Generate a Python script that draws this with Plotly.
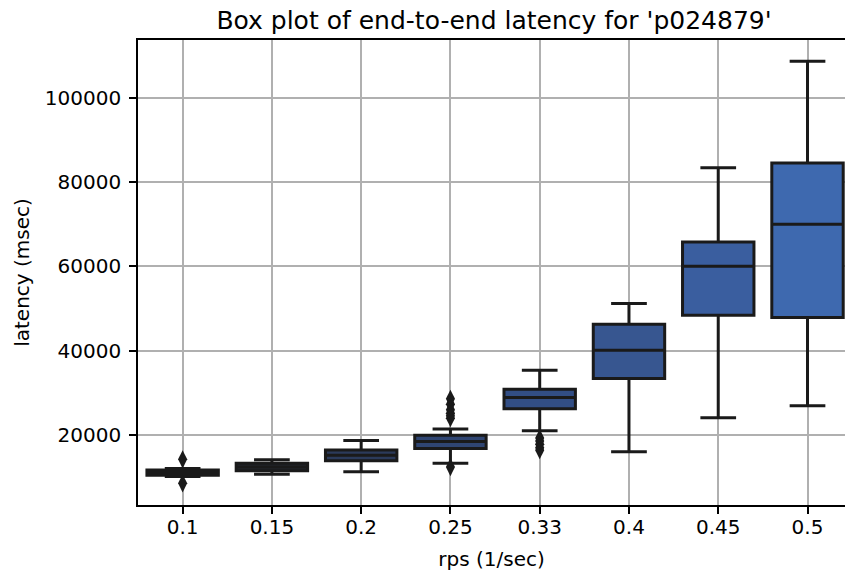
import plotly.graph_objects as go

categories = ["0.1", "0.15", "0.2", "0.25", "0.33", "0.4", "0.45", "0.5"]
lowerfence = [10150, 10690, 11310, 13290, 21020, 16050, 24100, 26950]
q1 = [10450, 11550, 13920, 16800, 26250, 33430, 48430, 47890]
median = [11100, 12450, 15200, 18500, 28900, 40140, 60050, 70000]
q3 = [11700, 13290, 16480, 19930, 30870, 46300, 65800, 84530]
upperfence = [12050, 14150, 18700, 21450, 35400, 51200, 83430, 108700]
outliers = [
    [14240, 8550],
    [],
    [],
    [28600, 27300, 26000, 25200, 24600, 24000, 12400],
    [19300, 18600, 17800, 17000, 16400],
    [],
    [],
    [],
]
colors = ["#1c1c1e", "#22272e", "#2b3a5a", "#2f4572", "#324e85",
          "#375690", "#3a5e9f", "#3e69af"]
edge = "#1a1a1a"

fig = go.Figure()
for i, cat in enumerate(categories):
    fig.add_trace(go.Box(
        x=[i], q1=[q1[i]], median=[median[i]], q3=[q3[i]],
        lowerfence=[lowerfence[i]], upperfence=[upperfence[i]],
        width=0.8, whiskerwidth=0.5, fillcolor=colors[i],
        line=dict(color=edge, width=3), boxpoints=False,
        showlegend=False, name=cat,
    ))
    if outliers[i]:
        fig.add_trace(go.Scatter(
            x=[i] * len(outliers[i]), y=outliers[i], mode="markers",
            marker=dict(symbol="diamond-tall", size=13, color=edge,
                        line=dict(width=0)),
            showlegend=False, hoverinfo="y",
        ))

axis_common = dict(
    showline=True, linecolor="black", linewidth=1.6,
    ticks="outside", ticklen=7, tickwidth=1.6, tickcolor="black",
    showgrid=True, gridcolor="#b0b0b0", gridwidth=1.6, zeroline=False,
    tickfont=dict(family="DejaVu Sans", size=20, color="black"),
)

fig.update_layout(
    width=845, height=571,
    margin=dict(l=138, r=0, t=40, b=66),
    paper_bgcolor="white", plot_bgcolor="white",
    font=dict(family="DejaVu Sans", color="black"),
    title=dict(text="Box plot of end-to-end latency for 'p024879'",
               x=494 / 845, xanchor="center", y=1 - 20 / 571, yanchor="middle",
               font=dict(family="DejaVu Sans", size=25, color="black")),
    xaxis=dict(axis_common, mirror=True, range=[-0.5, 7.42], tickmode="array",
               tickvals=list(range(len(categories))), ticktext=categories,
               ticklabelstandoff=-4,
               title=dict(text="rps (1/sec)", standoff=14,
                          font=dict(family="DejaVu Sans", size=20, color="black"))),
    yaxis=dict(axis_common, mirror=False, range=[3412, 113720], tickmode="array",
               tickvals=[20000, 40000, 60000, 80000, 100000],
               ticktext=["20000", "40000", "60000", "80000", "100000"],
               ticklabelstandoff=4,
               title=dict(text="latency (msec)", standoff=10,
                          font=dict(family="DejaVu Sans", size=20, color="black"))),
)

fig.write_html("out.html")
